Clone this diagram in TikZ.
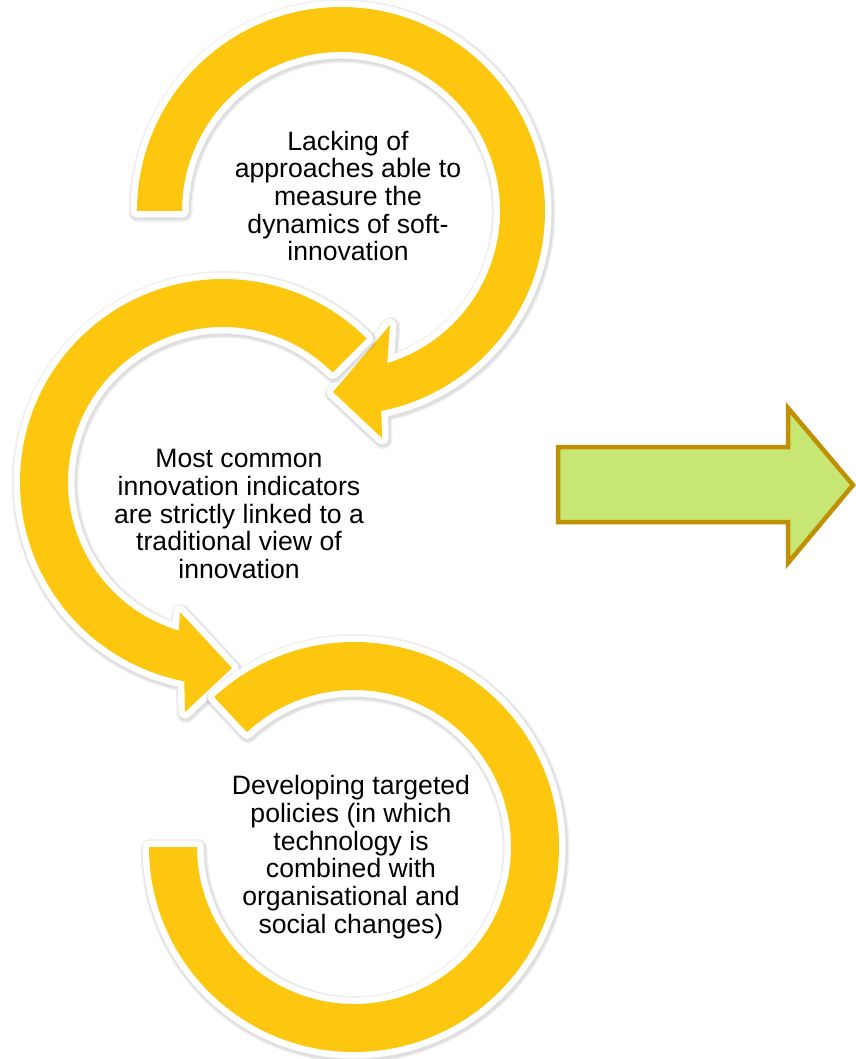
\documentclass[tikz,border=0pt]{standalone}
\usepackage{fontspec}
\setmainfont{Liberation Sans}
\usetikzlibrary{calc}
\definecolor{ringyellow}{RGB}{252,199,14}
\definecolor{arrowgreen}{RGB}{199,230,115}
\definecolor{arrowgold}{RGB}{191,144,0}
\tikzset{
  ringshape/.style={fill=ringyellow,
    preaction={draw=black, opacity=0.06, line width=19pt, line join=round, transform canvas={shift={(1pt,-1.5pt)}}},
    preaction={draw=black, opacity=0.07, line width=16pt, line join=round, transform canvas={shift={(1pt,-1.5pt)}}},
    preaction={draw=white, line width=13pt, line join=round}},
  bigarrow/.style={fill=arrowgreen, draw=arrowgold, line width=4.5pt, line join=miter},
  txt/.style={font=\fontsize{26.6}{27.7}\selectfont, align=center, inner sep=0pt, text=black}
}
\begin{document}
\begin{tikzpicture}[x=1pt,y=1pt]
\useasboundingbox (0,0) rectangle (855,-1059);
\fill[white] (0,0) rectangle (855,-1059);
\coordinate (c1) at (341,-211);
\coordinate (c2) at (223,-482);
\coordinate (c3) at (354,-847);
% circle 1
\path[ringshape] ($(c1)+(180:204)$) arc[start angle=180, end angle=-78.6, radius=204]
  -- (382,-438) -- (333,-392) -- (390,-325)
  -- ($(c1)+(-73.1:159)$) arc[start angle=-73.1, end angle=180, radius=159] -- cycle;
% circle 2
\path[ringshape] ($(c2)+(45:203)$) arc[start angle=45, end angle=259, radius=203]
  -- (185,-712) -- (232,-668) -- (180,-612)
  -- ($(c2)+(253.4:155)$) arc[start angle=253.4, end angle=45, radius=155] -- cycle;
% circle 3
\path[ringshape] ($(c3)+(180:205)$) arc[start angle=180, end angle=493, radius=205]
  -- ($(c3)+(133:157)$) arc[start angle=493, end angle=180, radius=157] -- cycle;
% green arrow
\path[bigarrow] (558,-447) -- (788,-447) -- (788,-408) -- (853,-485) -- (788,-563) -- (788,-522) -- (558,-522) -- cycle;
% texts
\node[txt] (t1) at (348,-196) {Lacking of\\approaches able to\\measure the\\dynamics of soft-\\innovation};
\node[txt] (t2) at (239,-514) {Most common\\innovation indicators\\are strictly linked to a\\traditional view of\\innovation};
\node[txt] (t3) at (351,-857) {Developing targeted\\policies (in which\\technology is\\combined with\\organisational and\\social changes)};
\end{tikzpicture}
\end{document}
